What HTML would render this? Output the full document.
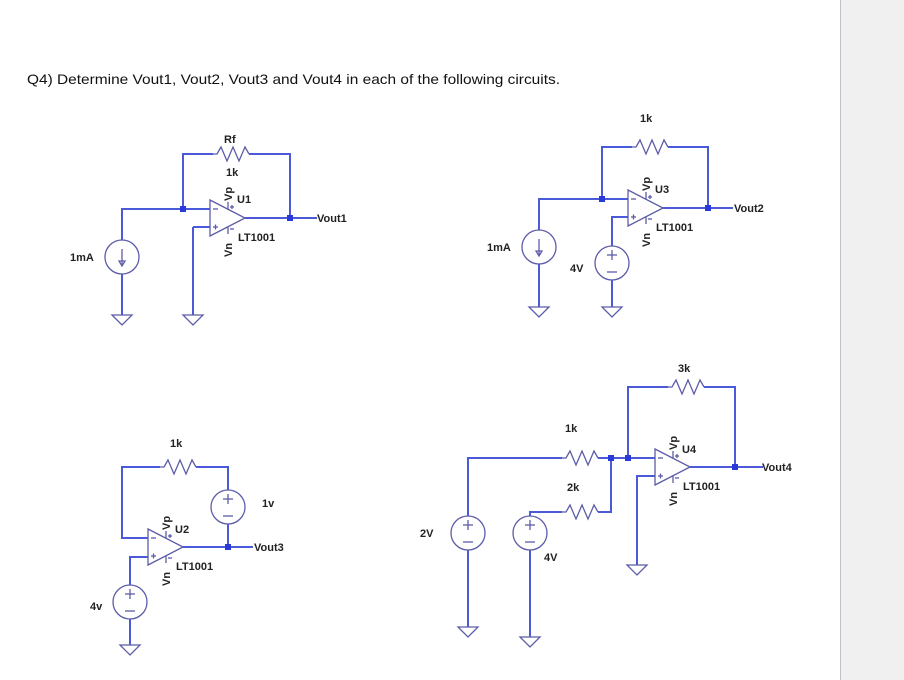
<!DOCTYPE html>
<html><head><meta charset="utf-8"><style>
html,body{margin:0;padding:0;background:#fff;}
svg{display:block;}
.w{stroke:#4a5ad8;stroke-width:2;fill:none;}
.s{stroke:#5c5ca8;stroke-width:1.3;fill:none;}
.t{font-family:"Liberation Sans",Arial,sans-serif;font-weight:bold;font-size:11px;fill:#222;}
.ts{font-family:"Liberation Sans",Arial,sans-serif;font-weight:bold;font-size:8px;fill:#222;}
</style></head><body>
<svg width="904" height="680" viewBox="0 0 904 680" xmlns="http://www.w3.org/2000/svg">
<rect x="840" y="0" width="64" height="680" fill="#f0f0f0"/>
<line x1="840.5" y1="0" x2="840.5" y2="680" stroke="#c0c0c8" stroke-width="1"/>
<text x="27" y="84" font-family="Liberation Sans,Arial,sans-serif" font-size="14" fill="#111" textLength="533" lengthAdjust="spacingAndGlyphs">Q4) Determine Vout1, Vout2, Vout3 and Vout4 in each of the following circuits.</text>
<defs>
<g id="op">
<polygon points="0,-18 0,18 35,0" class="s"/>
<line x1="18" y1="-8.7" x2="18" y2="-16" class="s"/>
<line x1="18" y1="8.7" x2="18" y2="16" class="s"/>
<line x1="3" y1="-9" x2="8" y2="-9" class="s"/>
<line x1="3" y1="9" x2="8" y2="9" class="s"/>
<line x1="5.5" y1="6.5" x2="5.5" y2="11.5" class="s"/>
<line x1="20" y1="-11" x2="24" y2="-11" class="s"/><line x1="22" y1="-13" x2="22" y2="-9" class="s"/>
<line x1="20" y1="11" x2="24" y2="11" class="s"/>
</g>
<polyline id="res" points="0,0 4,0 8,-7 14,7 20,-7 26,7 32,-7 36,0" class="s"/>
<polygon id="gnd" points="-10,0 10,0 0,10" class="s"/>
<g id="vs"><circle r="17" class="s"/><line x1="-5" y1="-8" x2="5" y2="-8" class="s"/><line x1="0" y1="-13" x2="0" y2="-3" class="s"/><line x1="-5" y1="9" x2="5" y2="9" class="s"/></g>
<g id="is"><circle r="17" class="s"/><line x1="0" y1="-8" x2="0" y2="8" class="s"/><polygon points="-3,4 3,4 0,9" class="s"/></g>
</defs>

<!-- Circuit 1 -->
<path class="w" d="M183,209 V154 H213 M249,154 H290 V218 M122,240 V209 H210 M245,218 H317 M193,227 H210 M193,227 V315 M122,274 V315"/>
<use href="#res" x="213" y="154"/>
<use href="#op" x="210" y="218"/>
<use href="#is" x="122" y="257"/>
<use href="#gnd" x="122" y="315"/><use href="#gnd" x="193" y="315"/>
<rect x="180" y="206" width="6" height="6" fill="#2a3ad8"/><rect x="287" y="215" width="6" height="6" fill="#2a3ad8"/>
<text class="t" x="224" y="143">Rf</text><text class="t" x="226" y="176">1k</text>
<text class="t" x="237" y="203">U1</text><text class="t" x="238" y="241">LT1001</text>
<text class="t" x="317" y="222">Vout1</text><text class="t" x="70" y="261">1mA</text>
<text class="t" transform="translate(232,201) rotate(-90)">Vp</text>
<text class="t" transform="translate(232,257) rotate(-90)">Vn</text>

<!-- Circuit 2 -->
<path class="w" d="M602,199 V147 H632 M668,147 H708 V208 M539,230 V199 H628 M663,208 H733 M612,246 V217 H628 M612,280 V307 M539,264 V307"/>
<use href="#res" x="632" y="147"/>
<use href="#op" x="628" y="208"/>
<use href="#is" x="539" y="247"/>
<use href="#vs" x="612" y="263"/>
<use href="#gnd" x="539" y="307"/><use href="#gnd" x="612" y="307"/>
<rect x="599" y="196" width="6" height="6" fill="#2a3ad8"/><rect x="705" y="205" width="6" height="6" fill="#2a3ad8"/>
<text class="t" x="640" y="122">1k</text>
<text class="t" x="655" y="193">U3</text><text class="t" x="656" y="231">LT1001</text>
<text class="t" x="734" y="212">Vout2</text><text class="t" x="487" y="251">1mA</text><text class="t" x="570" y="272">4V</text>
<text class="t" transform="translate(650,191) rotate(-90)">Vp</text>
<text class="t" transform="translate(650,247) rotate(-90)">Vn</text>

<!-- Circuit 3 -->
<path class="w" d="M148,538 H122 V467 H160 M196,467 H228 V490 M228,524 V547 M183,547 H253 M130,585 V557 H148 M130,619 V645"/>
<use href="#res" x="160" y="467"/>
<use href="#op" x="148" y="547"/>
<use href="#vs" x="228" y="507"/>
<use href="#vs" x="130" y="602"/>
<use href="#gnd" x="130" y="645"/>
<rect x="225" y="544" width="6" height="6" fill="#2a3ad8"/>
<text class="t" x="170" y="447">1k</text><text class="t" x="262" y="507">1v</text>
<text class="t" x="175" y="533">U2</text><text class="t" x="176" y="570">LT1001</text>
<text class="t" x="254" y="551">Vout3</text><text class="t" x="90" y="610">4v</text>
<text class="t" transform="translate(170,530) rotate(-90)">Vp</text>
<text class="t" transform="translate(170,586) rotate(-90)">Vn</text>

<!-- Circuit 4 -->
<path class="w" d="M628,458 V387 H668 M704,387 H735 V467 M468,516 V458 H562 M598,458 H655 M530,516 V512 H562 M598,512 H611 V458 M690,467 H763 M637,565 V476 H655 M468,550 V627 M530,550 V637"/>
<use href="#res" x="668" y="387"/>
<use href="#res" x="562" y="458"/>
<use href="#res" x="562" y="512"/>
<use href="#op" x="655" y="467"/>
<use href="#vs" x="468" y="533"/>
<use href="#vs" x="530" y="533"/>
<use href="#gnd" x="468" y="627"/><use href="#gnd" x="530" y="637"/><use href="#gnd" x="637" y="565"/>
<rect x="608" y="455" width="6" height="6" fill="#2a3ad8"/><rect x="625" y="455" width="6" height="6" fill="#2a3ad8"/><rect x="732" y="464" width="6" height="6" fill="#2a3ad8"/>
<text class="t" x="678" y="372">3k</text><text class="t" x="565" y="432">1k</text><text class="t" x="567" y="491">2k</text>
<text class="t" x="682" y="453">U4</text><text class="t" x="683" y="490">LT1001</text>
<text class="t" x="762" y="471">Vout4</text><text class="t" x="420" y="537">2V</text><text class="t" x="544" y="561">4V</text>
<text class="t" transform="translate(677,450) rotate(-90)">Vp</text>
<text class="t" transform="translate(677,506) rotate(-90)">Vn</text>
</svg>
</body></html>
